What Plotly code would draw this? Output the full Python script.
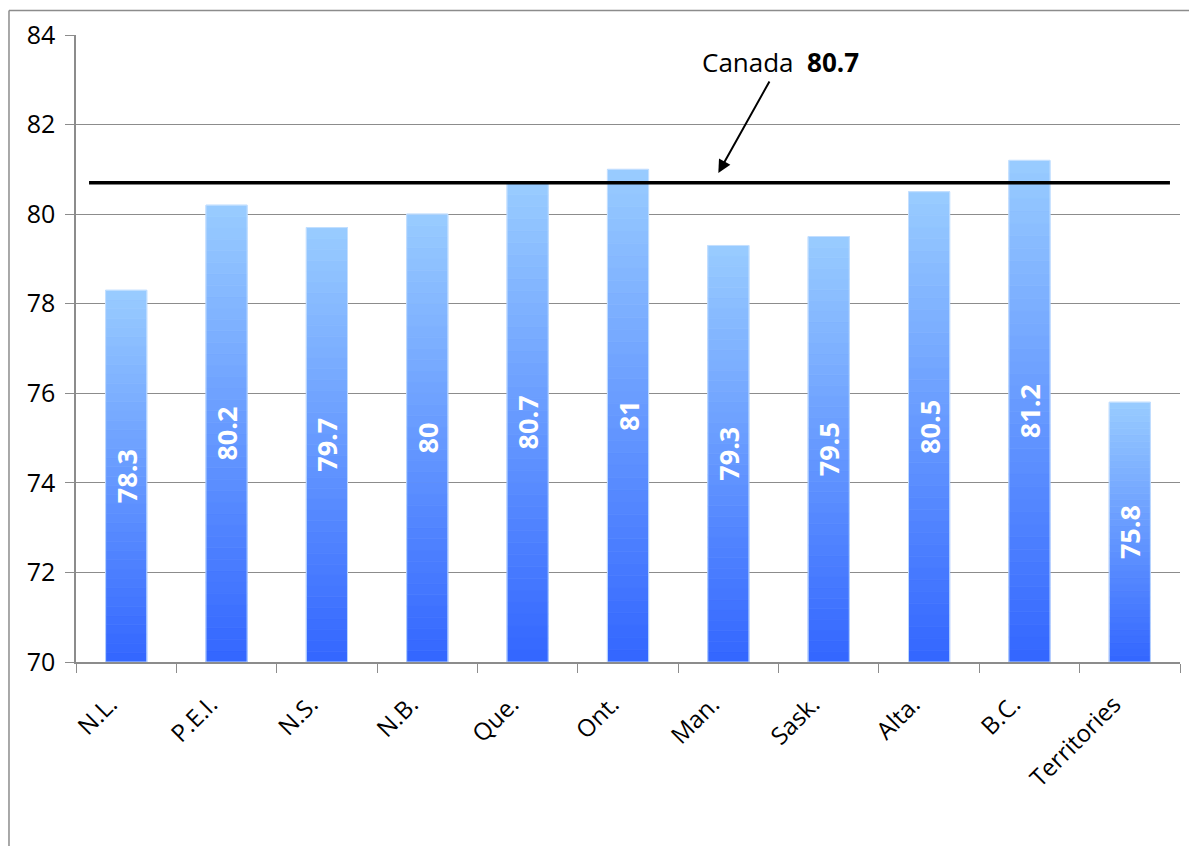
import plotly.graph_objects as go

provinces = ["N.L.", "P.E.I.", "N.S.", "N.B.", "Que.", "Ont.", "Man.", "Sask.", "Alta.", "B.C.", "Territories"]
life_expectancy = [78.3, 80.2, 79.7, 80.0, 80.7, 81.0, 79.3, 79.5, 80.5, 81.2, 75.8]
value_labels = ["78.3", "80.2", "79.7", "80", "80.7", "81", "79.3", "79.5", "80.5", "81.2", "75.8"]
canada_avg = 80.7
y_base = 70
y_ticks = [70, 72, 74, 76, 78, 80, 82, 84]

FONT = "Open Sans"
top_rgb = (153, 204, 255)
bot_rgb = (51, 102, 255)
N = 40
BAR_W = 0.41

fig = go.Figure()

# gradient bars built from stacked segments of each value
for i in range(N):
    t = (i + 0.5) / N
    c = "rgb(%d,%d,%d)" % tuple(round(bot_rgb[k] + (top_rgb[k] - bot_rgb[k]) * t) for k in range(3))
    seg = [(v - y_base) / N for v in life_expectancy]
    base = [y_base + (v - y_base) * i / N for v in life_expectancy]
    fig.add_trace(go.Bar(
        x=provinces, y=seg, base=base, width=BAR_W,
        marker=dict(color=c, line=dict(width=0.8, color=c)),
        hoverinfo="skip", showlegend=False,
    ))

# thin light outline around each bar
fig.add_trace(go.Bar(
    x=provinces, y=[v - y_base for v in life_expectancy], base=[y_base] * len(provinces), width=BAR_W,
    marker=dict(color="rgba(0,0,0,0)", line=dict(width=1, color="rgba(200,225,255,0.9)")),
    hoverinfo="skip", showlegend=False,
))

# value labels (wide transparent carrier so the text is not shrunk)
fig.add_trace(go.Bar(
    x=provinces, y=[v - y_base for v in life_expectancy], base=[y_base] * len(provinces), width=0.9,
    marker=dict(color="rgba(0,0,0,0)", line=dict(width=0)),
    text=value_labels, textposition="inside", insidetextanchor="middle", textangle=-90,
    textfont=dict(family=FONT, size=27, color="white", weight="bold"),
    hoverinfo="skip", showlegend=False,
))

fig.add_shape(type="line", xref="x", yref="y", x0=-0.37, x1=10.4, y0=canada_avg, y1=canada_avg,
              line=dict(color="black", width=3.5), layer="above")

fig.add_annotation(x=5.9, y=80.92, xref="x", yref="y",
                   text="Canada  <b>%.1f</b>" % canada_avg, showarrow=True,
                   ax=62, ay=-111, arrowhead=2, arrowsize=1.3, arrowwidth=2, arrowcolor="black",
                   font=dict(family=FONT, size=26, color="black"))

# outer frame (top and left edges visible)
fig.add_shape(type="line", xref="paper", yref="paper", x0=-0.0607, x1=1.2, y0=1.039, y1=1.039,
              line=dict(color="#8c8c8c", width=1.5))
fig.add_shape(type="line", xref="paper", yref="paper", x0=-0.0607, x1=-0.0607, y0=1.039, y1=-0.5,
              line=dict(color="#8c8c8c", width=1.5))

fig.update_layout(
    width=1189, height=846,
    margin=dict(l=76, r=9, t=35, b=184),
    paper_bgcolor="white", plot_bgcolor="white",
    barmode="overlay",
    font=dict(family=FONT, size=22, color="black"),
)
fig.update_xaxes(
    type="category", tickangle=-45, tickson="boundaries", ticks="outside", ticklen=9,
    tickcolor="#8c8c8c", showline=True, linecolor="#8c8c8c", linewidth=1.5,
    ticklabelstandoff=17, ticklabelshift=-16,
    showgrid=False, tickfont=dict(family=FONT, size=24, color="black"),
)
fig.update_yaxes(
    range=[70, 84], tickvals=y_ticks, ticks="outside", ticklen=9, tickcolor="#8c8c8c",
    showline=True, linecolor="#8c8c8c", linewidth=1.5, showgrid=True, gridcolor="#8c8c8c",
    gridwidth=1, zeroline=False, ticklabelstandoff=5,
    tickfont=dict(family=FONT, size=25, color="black"),
)

fig.write_html("out.html")
